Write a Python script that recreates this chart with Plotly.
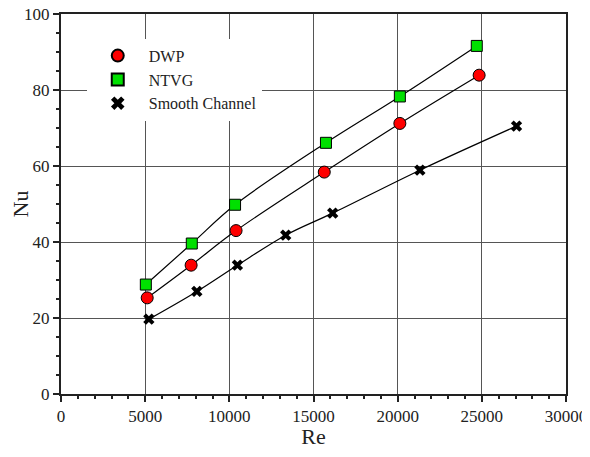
import plotly.graph_objects as go

re_dwp = [5120, 7730, 10400, 15640, 20130, 24840]
nu_dwp = [25.3, 33.9, 43.0, 58.4, 71.2, 83.9]

re_ntvg = [5040, 7770, 10340, 15740, 20130, 24700]
nu_ntvg = [28.8, 39.6, 49.8, 66.1, 78.3, 91.6]

re_smooth = [5220, 8070, 10480, 13350, 16140, 21320, 27060]
nu_smooth = [19.7, 27.0, 33.9, 41.8, 47.6, 58.9, 70.5]

series = [
    ("DWP", re_dwp, nu_dwp, dict(symbol="circle", size=12, color="#ff0000", line=dict(color="black", width=1))),
    ("NTVG", re_ntvg, nu_ntvg, dict(symbol="square", size=11, color="#00e000", line=dict(color="black", width=1))),
    ("Smooth Channel", re_smooth, nu_smooth, dict(symbol="x", size=10, color="black", line=dict(width=0))),
]

fig = go.Figure()
for name, x, y, mk in series:
    fig.add_trace(go.Scatter(x=x, y=y, mode="lines", line=dict(color="black", width=1.2, shape="spline", smoothing=1.0),
                             showlegend=False, hoverinfo="skip"))
for name, x, y, mk in series:
    fig.add_trace(go.Scatter(x=x, y=y, mode="markers", name=name, marker=mk))

serif = "Liberation Serif, Times New Roman, serif"
font = dict(family=serif, size=17, color="#222222")
title_font = dict(family=serif, size=22, color="#222222")
axis_common = dict(
    showline=True, linecolor="#222222", linewidth=2, mirror=True,
    ticks="outside", tickcolor="#222222", tickwidth=1.5, ticklen=6,
    showgrid=True, gridcolor="#555555", gridwidth=1, zeroline=False,
    tickfont=font, automargin=False, ticklabeloverflow="allow",
)
fig.update_xaxes(range=[0, 30000], dtick=5000, tick0=0, tickformat="d",
                 minor=dict(dtick=1000, ticks="outside", ticklen=3, tickcolor="#222222", showgrid=False),
                 title=dict(text="Re", font=title_font, standoff=4),
                 **axis_common)
fig.update_yaxes(range=[0, 100], dtick=20, tick0=0, tickformat="d",
                 minor=dict(dtick=5, ticks="outside", ticklen=3, tickcolor="#222222", showgrid=False),
                 title=dict(text="Nu", font=title_font, standoff=6),
                 **axis_common)

fig.update_layout(
    width=582, height=441,
    margin=dict(l=53, r=24, t=6, b=55),
    paper_bgcolor="white", plot_bgcolor="white",
    font=font,
    legend=dict(x=0.051, y=0.935, xanchor="left", yanchor="top", bgcolor="white",
                font=dict(family=serif, size=16, color="#222222"),
                borderwidth=0, itemsizing="constant", itemwidth=52),
)

fig.write_html("out.html")
